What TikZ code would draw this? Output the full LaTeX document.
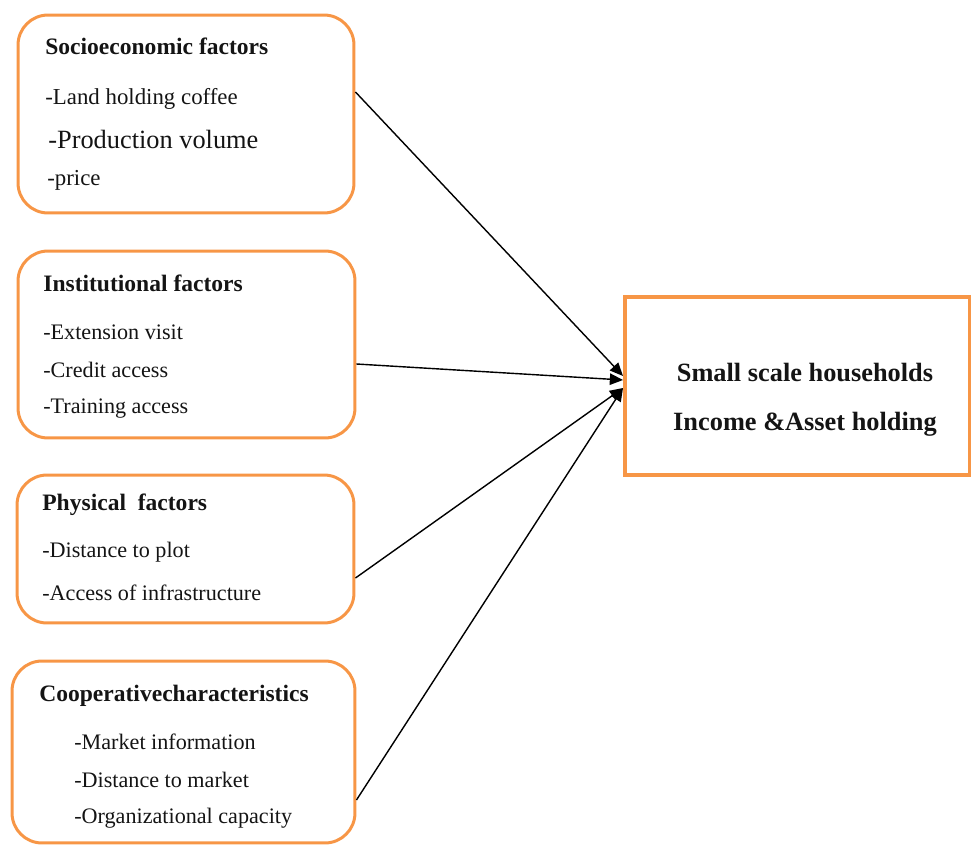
\documentclass[tikz,border=0pt]{standalone}
\usepackage{fontspec}
\setmainfont{Liberation Serif}
\usepackage{tikz}
\usetikzlibrary{calc,arrows.meta,positioning}
\definecolor{facOrange}{RGB}{247,150,70}
\definecolor{facText}{RGB}{20,20,20}

\begin{document}
\begin{tikzpicture}[x=0.02cm, y=-0.02cm,
    factorbox/.style={draw=facOrange, line width=1.7pt, rounded corners=0.6cm},
    outbox/.style={draw=facOrange, line width=2.3pt},
    head/.style={anchor=base west, inner sep=0pt, text=facText, font=\fontsize{13.4}{15}\selectfont\bfseries},
    item/.style={anchor=base west, inner sep=0pt, text=facText, font=\fontsize{12.6}{14}\selectfont},
    link/.style={line width=0.8pt, -{Triangle[length=7.5pt,width=6.5pt]}}]
\useasboundingbox (0,0) rectangle (971,845);

% boxes
\node[factorbox, minimum width=6.72cm, minimum height=3.96cm] (socio) at (186,114) {};
\node[factorbox, minimum width=6.74cm, minimum height=3.74cm] (inst) at (186.5,344.5) {};
\node[factorbox, minimum width=6.74cm, minimum height=2.96cm] (phys) at (185.5,549) {};
\node[factorbox, minimum width=6.86cm, minimum height=3.64cm] (coop) at (183.5,752) {};
\node[outbox, minimum width=6.9cm, minimum height=3.56cm] (target) at (797.5,386) {};

% socioeconomic
\node[head] (sociohead) at (45,54) {Socioeconomic factors};
\node[item, font=\fontsize{13}{15}\selectfont] (land) at (45,104) {-Land holding coffee};
\node[item, font=\fontsize{15}{17}\selectfont] (prod) at (48,148) {-Production volume};
\node[item, font=\fontsize{13}{15}\selectfont] (price) at (47,185) {-price};

% institutional
\node[head] (insthead) at (43,291) {Institutional factors};
\foreach \y/\txt [count=\i] in {339/-Extension visit, 377/-Credit access, 413/-Training access}
{
    \node[item] (inst\i) at (43,\y) {\txt};
}

% physical
\node[head] (physhead) at (42,510) {Physical\ \ factors};
\node[item] (plot) at (42,557) {-Distance to plot};
\node[item] (infra) at (42,600) {-Access of infrastructure};

% cooperative
\node[head] (coophead) at (39,701) {Cooperativecharacteristics};
\foreach \y/\txt [count=\i] in {749/-Market information, 787/-Distance to market, 823/-Organizational capacity}
{
    \node[item] (coop\i) at (74,\y) {\txt};
}

% outcome
\node[head, anchor=base, font=\fontsize{15}{17}\selectfont\bfseries] (outa) at (805,381) {Small scale households};
\node[head, anchor=base, font=\fontsize{15}{17}\selectfont\bfseries] (outb) at (805,430) {Income \&Asset holding};

% links
\draw[link] ($(socio.east)+(0,-22)$) -- ($(target.west)+(0,-10)$);
\draw[link] ($(inst.east)+(0,19.5)$) -- ($(target.west)+(0,-6)$);
\draw[link] ($(phys.east)+(0,29)$) -- ($(target.west)+(0,2)$);
\draw[link] ($(coop.east)+(0,48)$) -- ($(target.west)+(0,2)$);
\end{tikzpicture}
\end{document}
